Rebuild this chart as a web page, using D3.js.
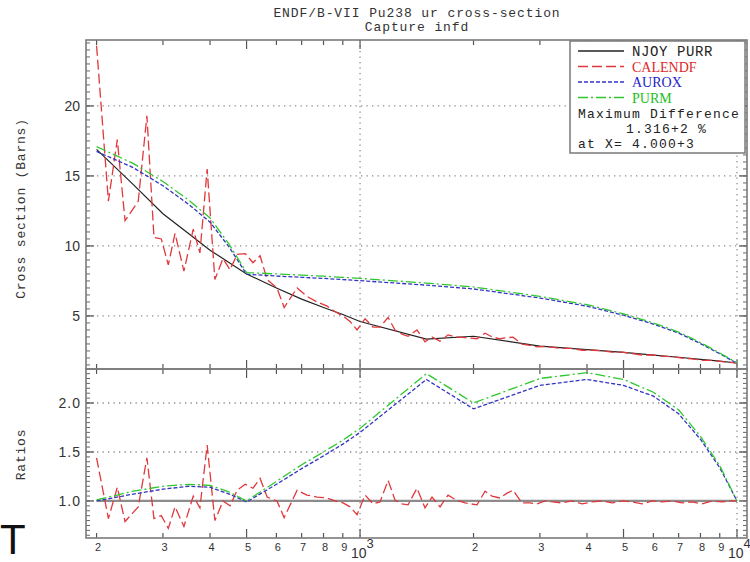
<!DOCTYPE html>
<html>
<head>
<meta charset="utf-8">
<script src="https://cdn.jsdelivr.net/npm/d3@7"></script>
<style>
  body { margin: 0; background: #fff; }
  svg { display: block; }
</style>
</head>
<body>
<svg id="chart" width="750" height="562"></svg>
<script>
// ---- Energy grids (eV) and cross sections (barns) ----
const energyNjoy = [200, 250, 300, 350, 400, 450, 500, 600, 700, 800, 900, 1000,
                    1500, 2000, 3000, 4000, 5000, 6000, 7000, 8000, 9000, 10000];
const njoyPurr = [16.9, 14.4, 12.3, 10.9, 9.7, 8.8, 8.0, 7.0, 6.2, 5.6, 5.1, 4.6,
                  3.35, 3.55, 2.85, 2.6, 2.4, 2.2, 2.05, 1.9, 1.77, 1.64];

const energyTables = [200, 250, 300, 350, 400, 450, 500, 600, 700, 800, 900, 1000,
                      1500, 2000, 3000, 4000, 5000, 6000, 7000, 8000, 9000, 10000];
const aurox = [16.75, 15.6, 14.3, 13.0, 11.7, 9.9, 7.98, 7.85, 7.76, 7.68, 7.6, 7.52,
               7.2, 6.93, 6.28, 5.7, 5.05, 4.42, 3.78, 3.02, 2.3, 1.62];
const purm = [17.1, 15.9, 14.6, 13.3, 12.0, 10.1, 8.1, 8.0, 7.92, 7.84, 7.76, 7.68,
              7.35, 7.07, 6.4, 5.8, 5.15, 4.5, 3.85, 3.1, 2.35, 1.65];

const energyCalendf = [200, 215, 227, 238, 258, 272, 284, 297, 310, 323, 341, 361, 376, 393,
  412, 433, 452, 472, 496, 520, 543, 567, 602, 629, 681, 723, 769, 818, 859, 901, 941, 982,
  1031, 1083, 1130, 1187, 1238, 1292, 1341, 1416, 1487, 1552, 1630, 1712, 1797, 1899,
  2043, 2146, 2239, 2352, 2455, 2545, 2690, 2824, 2948, 3095, 3250, 3434, 3650, 3881,
  4125, 4385, 4660, 4955, 5266, 5598, 5950, 6326, 6724, 7146, 7597, 8075, 8585, 9125,
  9581, 10000];
const calendf = [24.3, 13.2, 17.6, 11.8, 13.2, 19.3, 10.6, 10.5, 8.65, 10.9, 8.2, 11.2, 9.5, 15.5,
  7.6, 9.1, 8.3, 9.4, 9.45, 8.8, 9.3, 7.6, 7.0, 5.6, 7.0, 6.4, 6.0, 5.7, 5.3, 5.0, 4.6, 4.0,
  4.8, 4.2, 4.2, 4.9, 4.0, 3.7, 3.55, 4.0, 3.15, 3.5, 3.2, 3.65, 3.5, 3.45,
  3.37, 3.77, 3.5, 3.37, 3.45, 3.48, 2.98, 2.89, 2.79, 2.82, 2.75, 2.68, 2.68, 2.55,
  2.55, 2.52, 2.41, 2.41, 2.32, 2.21, 2.21, 2.13, 2.09, 1.99, 1.94, 1.83, 1.82, 1.74,
  1.69, 1.64];

// ---- Ratios to NJOY PURR ----
const njoyRatioEnergy = [200, 10000];
const njoyRatio = [1.0, 1.0];
const auroxRatio = [1.0, 1.07, 1.12, 1.15, 1.14, 1.07, 0.99, 1.17, 1.33, 1.46, 1.58, 1.70,
                    2.24, 1.94, 2.18, 2.24, 2.18, 2.07, 1.89, 1.63, 1.34, 1.0];
const purmRatio = [1.01, 1.10, 1.15, 1.17, 1.16, 1.09, 1.0, 1.2, 1.37, 1.5, 1.62, 1.74,
                   2.30, 2.0, 2.25, 2.31, 2.24, 2.11, 1.93, 1.66, 1.36, 1.0];
const calendfRatio = [1.44, 0.82, 1.14, 0.79, 0.94, 1.44, 0.82, 0.85, 0.72, 0.94, 0.74, 1.05, 0.93, 1.57,
  0.80, 1.00, 0.95, 1.11, 1.17, 1.13, 1.23, 1.04, 1.00, 0.83, 1.11, 1.06, 1.04, 1.03, 1.0, 0.98, 0.94, 0.86,
  1.06, 0.97, 0.99, 1.21, 1.01, 0.97, 0.96, 1.13, 0.93, 1.04, 0.94, 1.06, 1.01, 0.98,
  0.96, 1.10, 1.05, 1.03, 1.08, 1.11, 0.98, 0.98, 0.97, 1.00, 0.99, 0.98, 1.00, 0.97,
  0.99, 1.00, 0.98, 1.00, 0.99, 0.97, 1.00, 0.99, 1.00, 0.98, 0.99, 0.97, 1.00, 0.99,
  1.00, 1.00];

// ---- Axis ticks ----
const xTickValues = [200, 300, 400, 500, 600, 700, 800, 900, 1000,
                     2000, 3000, 4000, 5000, 6000, 7000, 8000, 9000, 10000];
const xTickLabels = ["2", "3", "4", "5", "6", "7", "8", "9", "10|3",
                     "2", "3", "4", "5", "6", "7", "8", "9", "10|4"];
const xGridValues = [1000, 10000];
const topMajorTicks = [5, 10, 15, 20];
const topTickLabels = ["5", "10", "15", "20"];
const ratioMajorTicks = [1.0, 1.5, 2.0];
const ratioTickLabels = ["1.0", "1.5", "2.0"];

const legendEntries = [
  { name: "NJOY PURR", color: "#222", dash: null, font: "'Liberation Mono', monospace", textColor: "#222" },
  { name: "CALENDF", color: "#e0383c", dash: "10,4", font: "'Liberation Serif', serif", textColor: "#e02828" },
  { name: "AUROX", color: "#3434c4", dash: "4,2", font: "'Liberation Serif', serif", textColor: "#2424c8" },
  { name: "PURM", color: "#2ec82e", dash: "10,3,2,3", font: "'Liberation Serif', serif", textColor: "#22c022" }
];

// ---- Layout ----
const L = 86, R = 747;
const T1 = 40, B1 = 369, T2 = 369, B2 = 538;
const MONO = "'Liberation Mono', 'DejaVu Sans Mono', monospace";
const SANS = "'Liberation Sans', Arial, sans-serif";
const FRAME = "#7a7a7a";

const svg = d3.select("#chart");

const x = d3.scaleLog().domain([187.5, 10630]).range([L, R]);
const yTop = d3.scaleLinear().domain([1.21, 24.71]).range([B1, T1]);
const yRat = d3.scaleLinear().domain([0.622, 2.347]).range([B2, T2]);

svg.append("defs").html(
  `<clipPath id="clipTop"><rect x="${L}" y="${T1}" width="${R - L}" height="${B1 - T1}"/></clipPath>
   <clipPath id="clipBot"><rect x="${L}" y="${T2}" width="${R - L}" height="${B2 - T2}"/></clipPath>`);

// ---- Titles ----
svg.append("text").attr("x", 417).attr("y", 17).attr("text-anchor", "middle")
  .style("font-family", MONO).style("font-size", "13px").style("letter-spacing", "0.9px")
  .attr("fill", "#333").text("ENDF/B-VII Pu238 ur cross-section");
svg.append("text").attr("x", 417).attr("y", 31).attr("text-anchor", "middle")
  .style("font-family", MONO).style("font-size", "13px").style("letter-spacing", "0.9px")
  .attr("fill", "#333").text("Capture infd");

// ---- Grid lines ----
function dotted(g) {
  g.attr("stroke", "#8a8a8a").attr("stroke-width", 1.3).attr("stroke-dasharray", "1.3,4.2").attr("fill", "none");
}
const grid = svg.append("g");
grid.selectAll(".gt").data(topMajorTicks).join("line")
  .attr("x1", L).attr("x2", R).attr("y1", d => yTop(d)).attr("y2", d => yTop(d)).call(dotted);
grid.selectAll(".gb").data(ratioMajorTicks).join("line")
  .attr("x1", L).attr("x2", R).attr("y1", d => yRat(d)).attr("y2", d => yRat(d)).call(dotted);
grid.selectAll(".gv").data(xGridValues).join("line")
  .attr("x1", d => x(d)).attr("x2", d => x(d)).attr("y1", T1).attr("y2", B2).call(dotted);

// ---- Axis ticks ----
function isLong(v) {
  const m = v / Math.pow(10, Math.floor(Math.log10(v) + 1e-9));
  return Math.abs(m - 5) < 1e-6 || Math.abs(m - 1) < 1e-6;
}
function xTicks(yEdge, dir) {
  svg.append("g").selectAll("line").data(xTickValues).join("line")
    .attr("x1", d => x(d)).attr("x2", d => x(d))
    .attr("y1", yEdge).attr("y2", d => yEdge + dir * (isLong(d) ? 9 : 5))
    .attr("stroke", "#555").attr("stroke-width", 1.2);
}
xTicks(T1, 1);
xTicks(B1, -1);
xTicks(T2, 1);
xTicks(B2, -1);

function yTicks(scale, minorVals, majorVals) {
  const g = svg.append("g");
  [[L, 1], [R, -1]].forEach(([xe, dir]) => {
    g.append("g").selectAll("line").data(minorVals).join("line")
      .attr("x1", xe).attr("x2", xe + dir * 4)
      .attr("y1", d => scale(d)).attr("y2", d => scale(d))
      .attr("stroke", "#666").attr("stroke-width", 1);
    g.append("g").selectAll("line").data(majorVals).join("line")
      .attr("x1", xe).attr("x2", xe + dir * 8)
      .attr("y1", d => scale(d)).attr("y2", d => scale(d))
      .attr("stroke", "#555").attr("stroke-width", 1.2);
  });
}
yTicks(yTop, d3.range(1.5, 24.6, 0.5), topMajorTicks);
yTicks(yRat, d3.range(0.65, 2.34, 0.05), ratioMajorTicks);

// ---- Tick labels ----
svg.append("g").selectAll("text").data(topMajorTicks).join("text")
  .attr("x", 80).attr("y", d => yTop(d) + 5).attr("text-anchor", "end")
  .style("font-family", SANS).style("font-size", "14px").attr("fill", "#333")
  .text((d, i) => topTickLabels[i]);
svg.append("g").selectAll("text").data(ratioMajorTicks).join("text")
  .attr("x", 81).attr("y", d => yRat(d) + 5).attr("text-anchor", "end")
  .style("font-family", SANS).style("font-size", "14px").style("letter-spacing", "1px").attr("fill", "#333")
  .text((d, i) => ratioTickLabels[i]);

const xl = svg.append("g").selectAll("text").data(xTickValues).join("text")
  .attr("x", d => x(d) + 1.5).attr("y", 551).attr("text-anchor", "middle")
  .style("font-family", SANS).style("font-size", "11px").attr("fill", "#333");
xl.each(function (d, i) {
  const lab = xTickLabels[i];
  const t = d3.select(this);
  if (lab.includes("|")) {
    const [base, sup] = lab.split("|");
    t.attr("y", 558).style("font-size", "14px").attr("text-anchor", "start").attr("x", x(d) - 9);
    t.append("tspan").text(base);
    t.append("tspan").attr("dy", -10).style("font-size", "13px").text(sup);
  } else {
    t.text(lab);
  }
});

// ---- Axis titles ----
svg.append("text").attr("transform", `translate(25,${(T1 + B1) / 2 + 4}) rotate(-90)`)
  .attr("text-anchor", "middle").style("font-family", MONO).style("font-size", "13px")
  .style("letter-spacing", "0.8px").attr("fill", "#333").text("Cross section (Barns)");
svg.append("text").attr("transform", `translate(25,${(T2 + B2) / 2 + 1}) rotate(-90)`)
  .attr("text-anchor", "middle").style("font-family", MONO).style("font-size", "13px")
  .style("letter-spacing", "0.8px").attr("fill", "#333").text("Ratios");

// ---- Series ----
const zip = (a, b) => a.map((v, i) => [v, b[i]]);
const lineTop = d3.line().x(d => x(d[0])).y(d => yTop(d[1]));
const lineRat = d3.line().x(d => x(d[0])).y(d => yRat(d[1]));

const topG = svg.append("g").attr("clip-path", "url(#clipTop)").attr("fill", "none");
topG.append("path").attr("d", lineTop(zip(energyNjoy, njoyPurr)))
  .attr("stroke", legendEntries[0].color).attr("stroke-width", 1.2);
topG.append("path").attr("d", lineTop(zip(energyCalendf, calendf)))
  .attr("stroke", legendEntries[1].color).attr("stroke-width", 1.3).attr("stroke-dasharray", legendEntries[1].dash);
topG.append("path").attr("d", lineTop(zip(energyTables, aurox)))
  .attr("stroke", legendEntries[2].color).attr("stroke-width", 1.3).attr("stroke-dasharray", legendEntries[2].dash);
topG.append("path").attr("d", lineTop(zip(energyTables, purm)))
  .attr("stroke", legendEntries[3].color).attr("stroke-width", 1.3).attr("stroke-dasharray", legendEntries[3].dash);

const botG = svg.append("g").attr("clip-path", "url(#clipBot)").attr("fill", "none");
botG.append("path").attr("d", lineRat(zip(njoyRatioEnergy, njoyRatio)))
  .attr("stroke", "#8c8c8c").attr("stroke-width", 2.2);
botG.append("path").attr("d", lineRat(zip(energyCalendf, calendfRatio)))
  .attr("stroke", legendEntries[1].color).attr("stroke-width", 1.3).attr("stroke-dasharray", legendEntries[1].dash);
botG.append("path").attr("d", lineRat(zip(energyTables, auroxRatio)))
  .attr("stroke", legendEntries[2].color).attr("stroke-width", 1.3).attr("stroke-dasharray", legendEntries[2].dash);
botG.append("path").attr("d", lineRat(zip(energyTables, purmRatio)))
  .attr("stroke", legendEntries[3].color).attr("stroke-width", 1.3).attr("stroke-dasharray", legendEntries[3].dash);

// ---- Frames ----
svg.append("rect").attr("x", L).attr("y", T1).attr("width", R - L).attr("height", B1 - T1)
  .attr("fill", "none").attr("stroke", FRAME).attr("stroke-width", 1.6);
svg.append("rect").attr("x", L).attr("y", T2).attr("width", R - L).attr("height", B2 - T2)
  .attr("fill", "none").attr("stroke", FRAME).attr("stroke-width", 1.6);

// ---- Legend ----
const lg = svg.append("g");
lg.append("rect").attr("x", 570).attr("y", 41).attr("width", 175).attr("height", 112)
  .attr("fill", "#fff").attr("stroke", FRAME).attr("stroke-width", 1.5);
legendEntries.forEach((e, i) => {
  const yy = 51 + i * 15.5;
  lg.append("line").attr("x1", 578).attr("x2", 624).attr("y1", yy).attr("y2", yy)
    .attr("stroke", e.color).attr("stroke-width", 1.3).attr("stroke-dasharray", e.dash);
  lg.append("text").attr("x", 632).attr("y", yy + 5)
    .style("font-family", e.font).style("font-size", "14px").attr("fill", e.textColor)
    .style("letter-spacing", i === 0 ? "0.6px" : "0px").text(e.name);
});
const infoLines = [
  { t: "Maximum Difference", x: 578, y: 118 },
  { t: "1.316+2 %", x: 626, y: 133 },
  { t: "at X= 4.000+3", x: 578, y: 148 }
];
lg.selectAll(".info").data(infoLines).join("text")
  .attr("x", d => d.x).attr("y", d => d.y)
  .style("font-family", MONO).style("font-size", "13px").style("letter-spacing", "1.2px")
  .attr("fill", "#222").text(d => d.t);

// ---- Corner mark ----
svg.append("text").attr("x", 0).attr("y", 554)
  .style("font-family", SANS).style("font-size", "42px").attr("fill", "#111").text("T");
</script>
</body>
</html>
